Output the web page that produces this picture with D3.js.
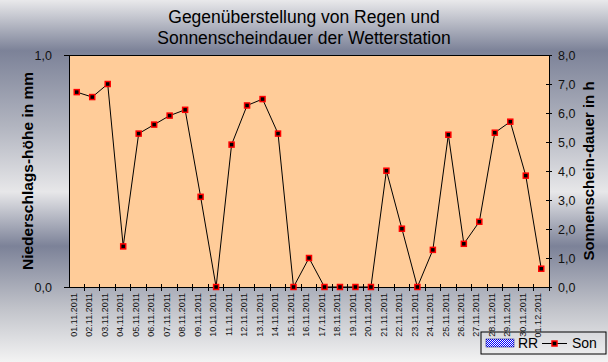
<!DOCTYPE html>
<html>
<head>
<meta charset="utf-8">
<script src="https://cdn.jsdelivr.net/npm/d3@7"></script>
<style>
  body { margin: 0; }
  svg { display: block; font-family: "Liberation Sans", Arial, sans-serif; }
</style>
</head>
<body>
<svg width="608" height="362"></svg>
<script>
// Tage (November 2011 + 01.12.)
var days = ["01.11.2011","02.11.2011","03.11.2011","04.11.2011","05.11.2011","06.11.2011",
  "07.11.2011","08.11.2011","09.11.2011","10.11.2011","11.11.2011","12.11.2011","13.11.2011",
  "14.11.2011","15.11.2011","16.11.2011","17.11.2011","18.11.2011","19.11.2011","20.11.2011",
  "21.11.2011","22.11.2011","23.11.2011","24.11.2011","25.11.2011","26.11.2011","27.11.2011",
  "28.11.2011","29.11.2011","30.11.2011","01.12.2011"];
// Niederschlag (mm) - keine Balken sichtbar
var rr = [0,0,0,0,0,0,0,0,0,0,0,0,0,0,0,0,0,0,0,0,0,0,0,0,0,0,0,0,0,0,0];
// Sonnenscheindauer (h)
var son = [6.72,6.55,7.0,1.4,5.29,5.6,5.91,6.11,3.11,0,4.91,6.26,6.48,5.29,0,1.0,0,0,0,0,
  4.01,2.01,0,1.28,5.25,1.49,2.25,5.32,5.7,3.84,0.63];
var leftTicks = [0, 1];
var rightTicks = [0,1,2,3,4,5,6,7,8];

var svg = d3.select("svg"),
    width = +svg.attr("width"),
    height = +svg.attr("height"),
    margin = {top: 55, right: 59, bottom: 75, left: 69};

var comma = function(v) { return d3.format(".1f")(v).replace(".", ","); };

// background gradient
var defs = svg.append("defs");
var grad = defs.append("linearGradient").attr("id", "bg")
    .attr("x1", 0).attr("y1", 0).attr("x2", 0).attr("y2", 1);
[[0, "#e9e9eb"], [0.14, "#7c8298"], [0.35, "#b2b5c0"], [0.53, "#e7e7e9"],
 [0.68, "#7c8298"], [0.85, "#c0c2c9"], [1, "#f3f3f3"]].forEach(function(s) {
  grad.append("stop").attr("offset", s[0]).attr("stop-color", s[1]);
});
var pat = defs.append("pattern").attr("id", "hatch")
    .attr("width", 2).attr("height", 2).attr("patternUnits", "userSpaceOnUse");
pat.append("rect").attr("width", 2).attr("height", 2).attr("fill", "#fff");
pat.append("rect").attr("width", 1).attr("height", 1).attr("fill", "#0000ff");
pat.append("rect").attr("x", 1).attr("y", 1).attr("width", 1).attr("height", 1).attr("fill", "#0000ff");

svg.append("rect").attr("width", width).attr("height", height).attr("fill", "url(#bg)");

var x = d3.scaleBand().domain(days).range([margin.left, width - margin.right]);
var yL = d3.scaleLinear().domain([0, 1]).range([height - margin.bottom, margin.top]);
var yR = d3.scaleLinear().domain([0, 8]).range([height - margin.bottom, margin.top]);

// plot area
svg.append("rect")
    .attr("x", margin.left).attr("y", margin.top)
    .attr("width", width - margin.left - margin.right)
    .attr("height", height - margin.top - margin.bottom)
    .attr("fill", "#ffcc99").attr("stroke", "#000").attr("stroke-width", 1)
    .attr("shape-rendering", "crispEdges");

// RR bars (all zero)
svg.append("g").selectAll("rect").data(rr).enter().append("rect")
    .attr("x", function(d, i) { return x(days[i]) + x.bandwidth() * 0.2; })
    .attr("width", x.bandwidth() * 0.6)
    .attr("y", function(d) { return yL(d); })
    .attr("height", function(d) { return yL(0) - yL(d); })
    .attr("fill", "url(#hatch)");

// axes
var gl = svg.append("g").attr("transform", "translate(" + margin.left + ",0)")
    .call(d3.axisLeft(yL).tickValues(leftTicks).tickFormat(comma).tickSize(5).tickPadding(12));
var gr = svg.append("g").attr("transform", "translate(" + (width - margin.right) + ",0)")
    .call(d3.axisRight(yR).tickValues(rightTicks).tickFormat(comma).tickSize(3).tickPadding(6));
gr.selectAll(".tick line").attr("x1", -3);
gl.selectAll(".tick line").attr("x1", 0);

var gx = svg.append("g").attr("transform", "translate(0," + (height - margin.bottom) + ")")
    .call(d3.axisBottom(x).tickSize(0));
gx.selectAll(".tick text")
    .attr("transform", "translate(-3,0) rotate(-90)")
    .attr("x", -6).attr("y", 0).attr("dy", "0.35em")
    .style("text-anchor", "end");
// tick marks between days
gx.selectAll(".sep").data(days.slice(1).concat(["end"])).enter().append("line")
    .attr("class", "sep")
    .attr("x1", function(d) { return d === "end" ? width - margin.right : x(d); })
    .attr("x2", function(d) { return d === "end" ? width - margin.right : x(d); })
    .attr("y1", -3).attr("y2", 4).attr("stroke", "#000");

[gl, gr, gx].forEach(function(g) {
  g.selectAll(".domain").attr("stroke", "#000");
  g.selectAll("line").attr("stroke", "#000").attr("shape-rendering", "crispEdges");
  g.selectAll("text").attr("fill", "#111").style("font-family", "Liberation Sans, Arial, sans-serif");
});
gl.selectAll("text").style("font-size", "12.5px");
gr.selectAll("text").style("font-size", "12.5px");
gx.selectAll("text").style("font-size", "9px");

// Sonnenschein line
var line = d3.line()
    .x(function(d, i) { return x(days[i]) + x.bandwidth() / 2; })
    .y(function(d) { return yR(d); });
svg.append("path").datum(son).attr("d", line)
    .attr("fill", "none").attr("stroke", "#000").attr("stroke-width", 1);
svg.append("g").selectAll("rect").data(son).enter().append("rect")
    .attr("x", function(d, i) { return x(days[i]) + x.bandwidth() / 2 - 2.5; })
    .attr("y", function(d) { return yR(d) - 2.5; })
    .attr("width", 5).attr("height", 5)
    .attr("fill", "#000").attr("stroke", "#ff0000").attr("stroke-width", 1.5);

// titles
var title = svg.append("text").attr("text-anchor", "middle")
    .style("font-size", "17.5px").attr("fill", "#000");
title.append("tspan").attr("x", 304).attr("y", 23).text("Gegenüberstellung von Regen und");
title.append("tspan").attr("x", 304).attr("y", 44).text("Sonnenscheindauer der Wetterstation");

svg.append("text")
    .attr("transform", "translate(33," + (margin.top + (height - margin.top - margin.bottom) / 2) + ") rotate(-90)")
    .attr("text-anchor", "middle").style("font-size", "15.5px").style("font-weight", "bold")
    .text("Niederschlags-höhe in mm");
svg.append("text")
    .attr("transform", "translate(594," + (margin.top + (height - margin.top - margin.bottom) / 2) + ") rotate(-90)")
    .attr("text-anchor", "middle").style("font-size", "15px").style("font-weight", "bold")
    .text("Sonnenschein-dauer in h");

// legend
var lg = svg.append("g").attr("transform", "translate(481,332)");
lg.append("rect").attr("width", 125).attr("height", 22)
    .attr("fill", "none").attr("stroke", "#000");
lg.append("rect").attr("x", 5).attr("y", 7).attr("width", 28).attr("height", 8)
    .attr("fill", "url(#hatch)").attr("stroke", "#000080").attr("stroke-width", 0.5);
lg.append("text").attr("x", 37).attr("y", 16).style("font-size", "14px").text("RR");
lg.append("line").attr("x1", 61).attr("x2", 86).attr("y1", 11.5).attr("y2", 11.5)
    .attr("stroke", "#000");
lg.append("rect").attr("x", 71).attr("y", 9).attr("width", 5).attr("height", 5)
    .attr("fill", "#000").attr("stroke", "#ff0000").attr("stroke-width", 1.5);
lg.append("text").attr("x", 91).attr("y", 16).style("font-size", "14px").text("Son");
</script>
</body>
</html>
